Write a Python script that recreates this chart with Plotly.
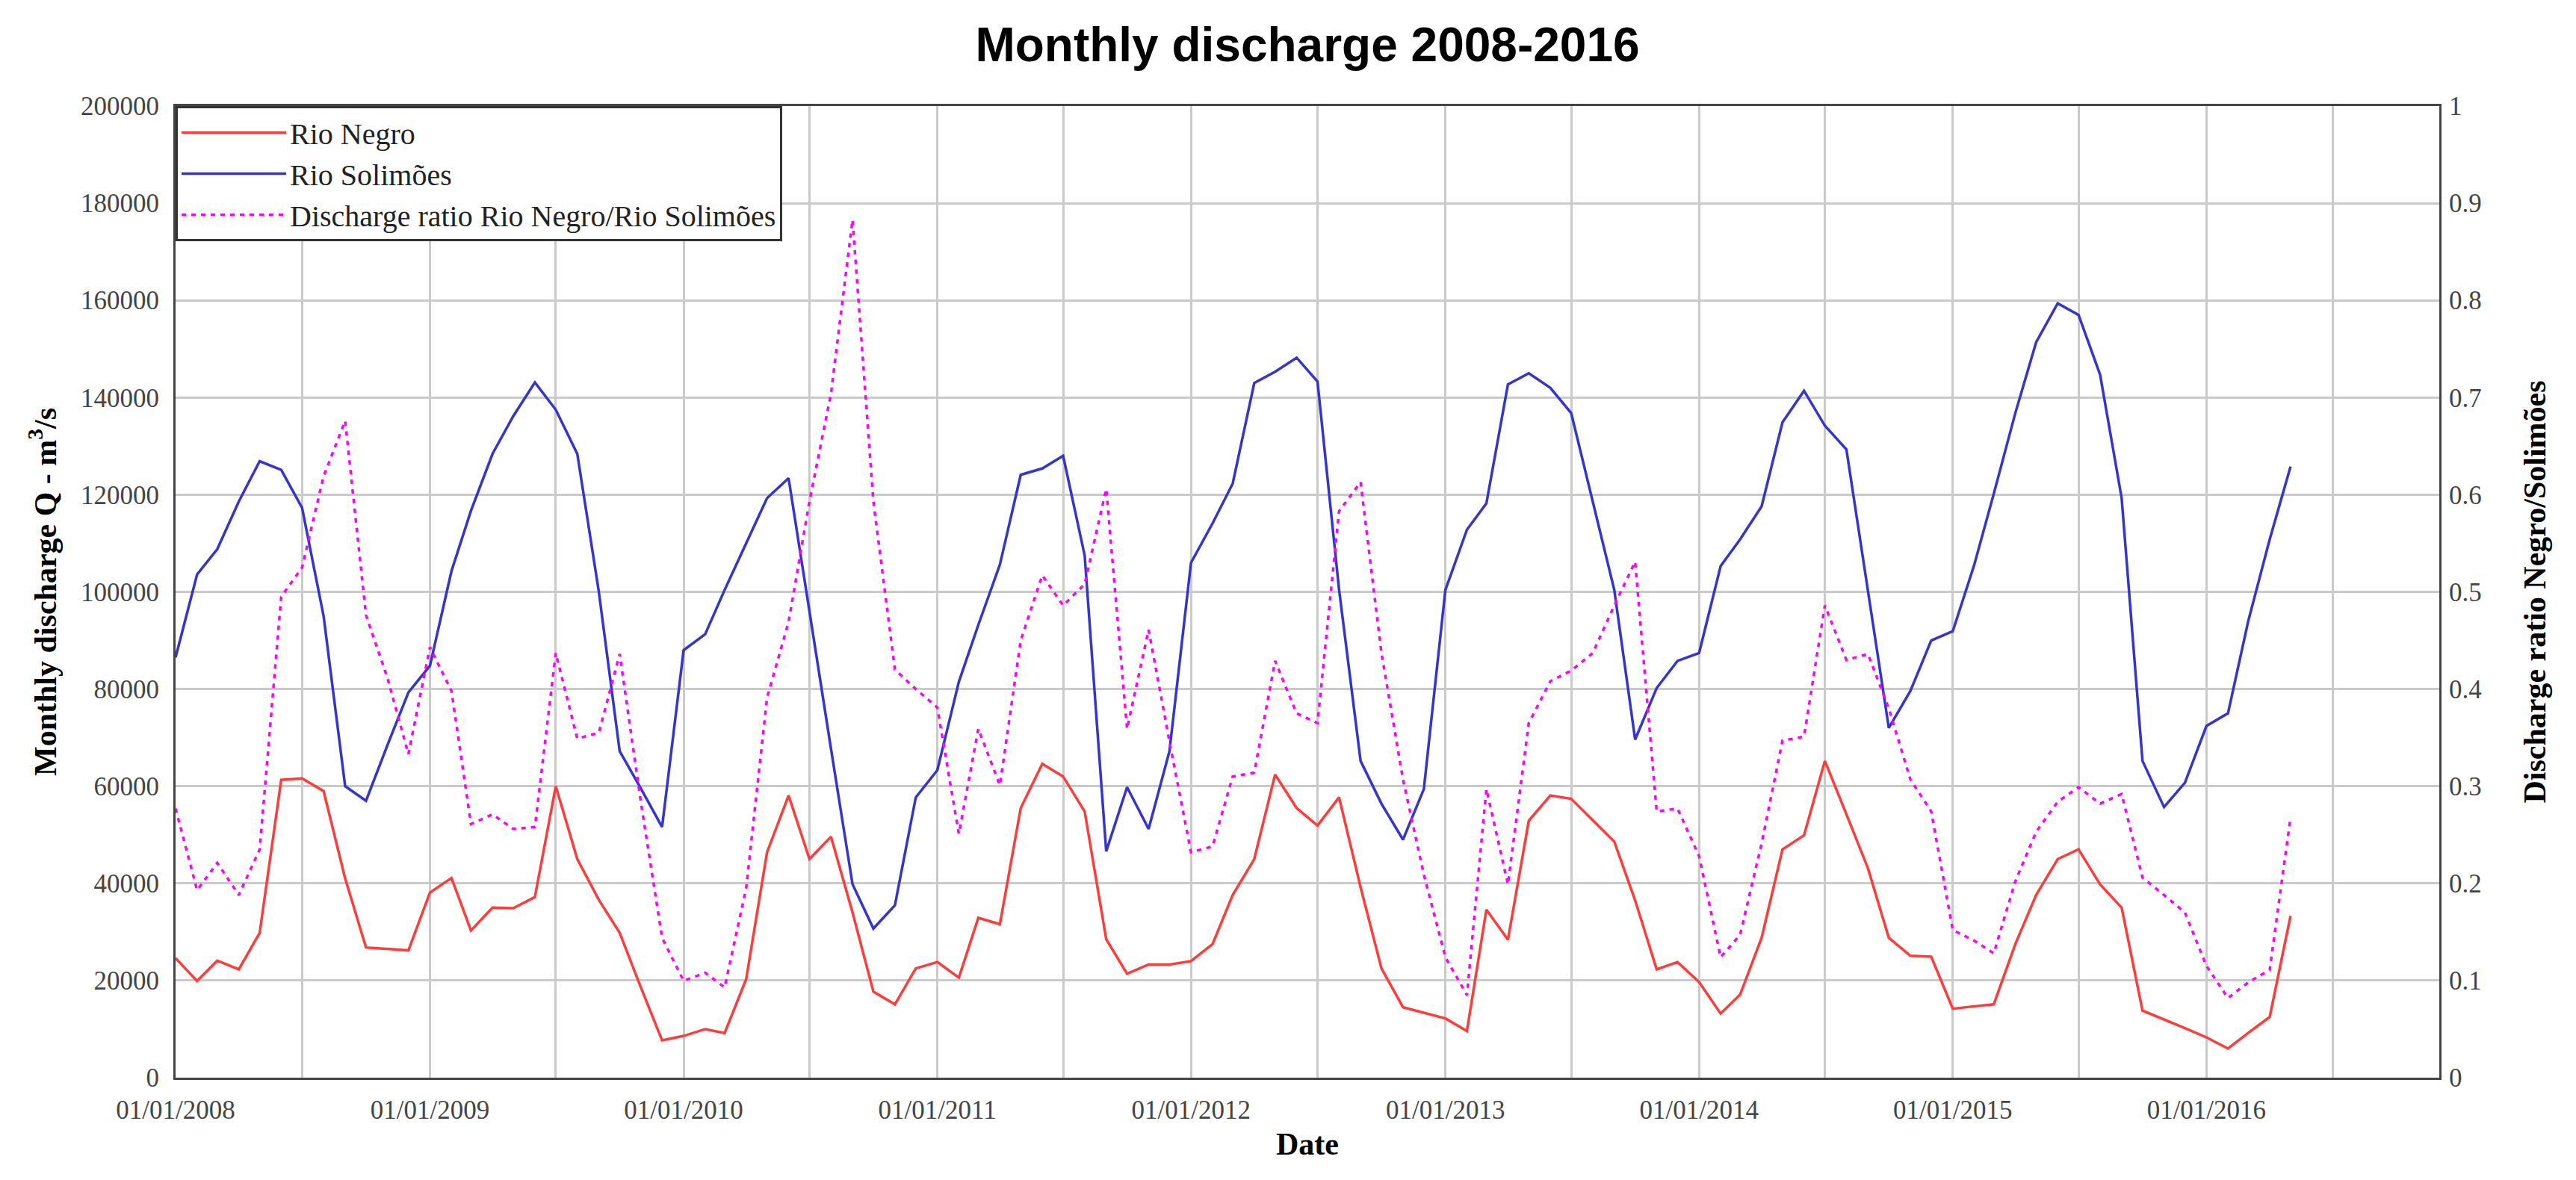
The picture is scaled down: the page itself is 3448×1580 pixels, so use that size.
import pandas as pd
import plotly.graph_objects as go

# ---- data ----
months = pd.date_range("2008-01-01", periods=101, freq="MS")

rio_negro = [
    24600, 19900, 24100, 22300, 29800, 61300, 61600, 59000, 41000, 26800, 26500, 26200,
    38100, 41100, 30300, 35000, 34900, 37200, 60000, 45000, 36600, 29800, 18400, 7700,
    8600, 10000, 9200, 20300, 46400, 58100, 45000, 49600, 34000, 17700, 15100, 22500,
    23800, 20600, 32900, 31600, 55500, 64600, 62000, 54800, 28500, 21400, 23300, 23300,
    24000, 27500, 37600, 45000, 62400, 55500, 51900, 57700, 39200, 22500, 14500, 13400,
    12200, 9600, 34600, 28400, 52900, 58100, 57400, 53000, 48600, 36500, 22300, 23800,
    19700, 13200, 17100, 28800, 47000, 49900, 65200, 54200, 43100, 28800, 25100, 24900,
    14200, 14700, 15100, 27500, 37600, 45000, 47000, 39800, 35000, 13800, 12000, 10200,
    8300, 6000, 9200, 12500, 33300,
]

rio_solimoes = [
    86500, 103600, 108800, 118600, 126900, 125100, 117300, 95000, 60000, 57000, 68500, 79300,
    84800, 104300, 116700, 128400, 136200, 143100, 137500, 128400, 100000, 67200, 59400, 51600,
    88000, 91300, 100400, 110100, 119300, 123400, 95600, 67700, 39800, 30700, 35500, 57700,
    63300, 81500, 93200, 105600, 124100, 125400, 128000, 107500, 46600, 59800, 51200, 67200,
    106000, 114100, 122300, 143000, 145300, 148200, 143300, 100500, 65200, 56400, 49000, 59400,
    100400, 112800, 118200, 142700, 145000, 142000, 136800, 118600, 100400, 69600, 80200, 85800,
    87400, 105300, 110800, 117600, 134900, 141400, 134200, 129300, 100600, 72000, 79600, 90000,
    91900, 105600, 120200, 136800, 151400, 159400, 157000, 144700, 119300, 65200, 55700, 60700,
    72400, 75000, 93900, 110800, 125800,
]

ratio = [
    0.277, 0.193, 0.221, 0.188, 0.235, 0.495, 0.525, 0.619, 0.676, 0.476, 0.411, 0.333,
    0.443, 0.398, 0.261, 0.271, 0.256, 0.258, 0.437, 0.349, 0.355, 0.436, 0.281, 0.144,
    0.0996, 0.108, 0.093, 0.195, 0.391, 0.469, 0.593, 0.704, 0.883, 0.593, 0.420, 0.400,
    0.381, 0.251, 0.359, 0.301, 0.450, 0.517, 0.486, 0.508, 0.606, 0.359, 0.461, 0.346,
    0.232, 0.238, 0.310, 0.314, 0.429, 0.375, 0.365, 0.583, 0.613, 0.437, 0.307, 0.209,
    0.124, 0.085, 0.297, 0.199, 0.365, 0.408, 0.419, 0.437, 0.486, 0.531, 0.274, 0.277,
    0.228, 0.124, 0.147, 0.241, 0.347, 0.351, 0.486, 0.430, 0.436, 0.380, 0.307, 0.274,
    0.152, 0.141, 0.128, 0.202, 0.253, 0.284, 0.299, 0.282, 0.292, 0.206, 0.188, 0.170,
    0.115, 0.082, 0.098, 0.111, 0.268,
]

# x ticks: a label on every 1 January, a gridline every half year
x_tick_dates = pd.date_range("2008-01-01", "2016-01-01", freq="12MS")
x_tick_labels = [d.strftime("%d/%m/%Y") for d in x_tick_dates]

SERIF = "Liberation Serif, Times New Roman, serif"
SANS = "Liberation Sans, Arial, sans-serif"
GRID = "#cacaca"

fig = go.Figure()
fig.add_trace(go.Scatter(x=months, y=rio_negro, name="Rio Negro", mode="lines",
                         line=dict(color="#ff3c3c", width=3.5)))
fig.add_trace(go.Scatter(x=months, y=rio_solimoes, name="Rio Solimões", mode="lines",
                         line=dict(color="#3434cf", width=3.5)))
fig.add_trace(go.Scatter(x=months, y=ratio, name="Discharge ratio Rio Negro/Rio Solimões",
                         mode="lines", yaxis="y2",
                         line=dict(color="#ff00ff", width=3.5, dash="6px,7px")))

fig.update_layout(
    width=3448, height=1580,
    margin=dict(l=227, r=191, t=134, b=145),
    paper_bgcolor="white", plot_bgcolor="white",
    font=dict(family=SERIF, size=35, color="#444"),
    title=dict(text="Monthly discharge 2008-2016", x=0.5, xref="paper", xanchor="center",
               y=1 - 52 / 1580, yanchor="middle",
               font=dict(family=SANS, size=64, color="black", weight="bold")),
    showlegend=True,
    legend=dict(x=0, y=1, xanchor="left", yanchor="top", bgcolor="white",
                bordercolor="#333", borderwidth=3, itemwidth=140,
                font=dict(family=SERIF, size=40, color="#222"),
                tracegroupgap=0),
    xaxis=dict(
        type="date", range=["2008-01-01", "2016-12-01"],
        tickvals=list(x_tick_dates), ticktext=x_tick_labels,
        showgrid=True, gridcolor=GRID, gridwidth=2.5,
        minor=dict(dtick="M6", tick0="2008-01-01", showgrid=True,
                   gridcolor=GRID, gridwidth=2.5, ticks=""),
        showline=True, linecolor="#444", linewidth=3, mirror=True,
        ticks="", ticklabelstandoff=10, zeroline=False,
        title=dict(text="Date", standoff=12,
                   font=dict(family=SERIF, size=42, color="black", weight="bold")),
    ),
    yaxis=dict(
        range=[0, 200000], dtick=20000, tickformat="d",
        showgrid=True, gridcolor=GRID, gridwidth=2.5,
        showline=True, linecolor="#444", linewidth=3, mirror=True,
        ticks="", ticklabelstandoff=12, zeroline=False,
        title=dict(text="Monthly discharge Q - m<sup>3</sup>/s", standoff=20,
                   font=dict(family=SERIF, size=42, color="black", weight="bold")),
    ),
    yaxis2=dict(
        range=[0, 1], dtick=0.1, overlaying="y", side="right",
        showgrid=False, showline=False, zeroline=False,
        ticks="", ticklabelstandoff=12,
        title=dict(text="Discharge ratio Negro/Solimões", standoff=56,
                   font=dict(family=SERIF, size=42, color="black", weight="bold")),
    ),
)

fig.write_html("out.html")
